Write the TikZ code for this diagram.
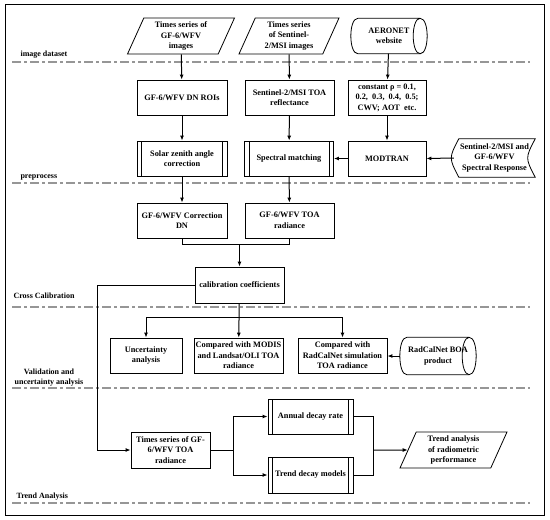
\documentclass[tikz,border=0pt]{standalone}
\usepackage{fontspec}
\setmainfont{Liberation Serif}
\usetikzlibrary{arrows.meta, shapes.geometric}
\definecolor{secgray}{RGB}{150,150,150}
% horizontal drum (stored data) outline round a named node
\newcommand{\drumout}[1]{%
  \draw[line width=0.8pt] ([xshift=7pt]#1.north west) -- ([xshift=-7pt]#1.north east)
    .. controls ([xshift=2.3pt]#1.north east) and ([xshift=2.3pt]#1.south east) .. ([xshift=-7pt]#1.south east)
    .. controls ([xshift=-16.3pt]#1.south east) and ([xshift=-16.3pt]#1.north east) .. ([xshift=-7pt]#1.north east);
  \draw[line width=0.8pt] ([xshift=-7pt]#1.south east) -- ([xshift=7pt]#1.south west)
    .. controls ([xshift=-2.3pt]#1.south west) and ([xshift=-2.3pt]#1.north west) .. ([xshift=7pt]#1.north west);}

\begin{document}
\begin{tikzpicture}[x=1pt, y=-1pt,
  every node/.style={font=\fontsize{8.3}{10.5}\selectfont\bfseries, align=center},
  pbox/.style={draw, line width=0.8pt, inner sep=1pt, minimum height=35pt},
  procbox/.style={pbox, path picture={
      \draw[line width=0.8pt] ([xshift=4.5pt]path picture bounding box.north west) -- ([xshift=4.5pt]path picture bounding box.south west)
        ([xshift=-4.5pt]path picture bounding box.north east) -- ([xshift=-4.5pt]path picture bounding box.south east);}},
  databox/.style={draw, line width=0.8pt, trapezium, trapezium left angle=62, trapezium right angle=118,
                  trapezium stretches body, inner sep=1pt, minimum height=36pt},
  drum/.style={inner sep=1pt, minimum height=35pt},
  sect/.style={secgray, line width=1.3pt, dash pattern=on 9pt off 3pt on 3pt off 3pt},
  slabel/.style={font=\fontsize{8}{10}\selectfont\bfseries, anchor=west},
  flow/.style={line width=1pt, -{Latex[length=5pt,width=4pt]}},
  link/.style={line width=1pt}]
  \useasboundingbox (0,0) rectangle (550,520);
  \draw[line width=1pt] (5,4) rectangle (544,515);

  % section borders and labels
  \draw[sect] (12,62) -- (530,62);
  \draw[sect] (12,183) -- (530,183);
  \draw[sect] (12,307) -- (530,307);
  \draw[sect] (12,388) -- (530,388);
  \draw[sect] (12,503) -- (530,503);
  \node[slabel] (l1) at (17,55) {image dataset};
  \node[slabel] (l2) at (17,177) {preprocess};
  \node[slabel] (l3) at (10,296) {Cross Calibration};
  \node[font=\fontsize{8}{10}\selectfont\bfseries] (l4) at (49,378) {Validation and\\uncertainty analysis};
  \node[slabel] (l5) at (13,497) {Trend Analysis};

  % image dataset
  \node[databox, minimum width=107pt] (d1) at (181,36) {Times series of\\GF-6/WFV\\images};
  \node[databox, minimum width=100pt] (d2) at (289,36) {Times series\\of Sentinel-\\2/MSI images};
  \node[drum, minimum width=76pt] (d3) at (389,36) {AERONET\\website};
  \drumout{d3}

  % preprocess
  \node[pbox, minimum width=90pt] (p1) at (182,97.5) {GF-6/WFV DN ROIs};
  \node[pbox, minimum width=89pt] (p2) at (289.5,97.5) {Sentinel-2/MSI TOA\\reflectance};
  \node[pbox, minimum width=78pt] (p3) at (387,97.5) {constant ρ = 0.1,\\0.2,~ 0.3,~ 0.4,~ 0.5;\\CWV; AOT~ etc.};
  \node[procbox, minimum width=90pt] (c1) at (182,158.5) {Solar zenith angle\\correction};
  \node[procbox, minimum width=89pt] (c2) at (289,158.5) {Spectral matching};
  \node[pbox, minimum width=78pt] (c3) at (387,158.5) {MODTRAN};
  \node[inner sep=0pt, minimum width=81pt, minimum height=38pt] (sr) at (494.5,158) {Sentinel-2/MSI and\\GF-6/WFV\\Spectral Response};
  \draw[line width=0.8pt] ([xshift=5pt]sr.north west) -- (sr.north east)
    .. controls ([xshift=-10pt]sr.east) .. (sr.south east) -- ([xshift=5pt]sr.south west)
    .. controls ([xshift=-5pt]sr.west) .. ([xshift=5pt]sr.north west) -- cycle;

  \draw[flow] (d1) -- (p1);
  \draw[flow] (d2) -- (p2);
  \draw[flow] (d3) -- (p3);
  \draw[flow] (p1) -- (c1);
  \draw[flow] (p2) -- (c2);
  \draw[flow] (p3) -- (c3);
  \draw[flow] (sr.west) -- (c3.east);
  \draw[flow] (c3) -- (c2);

  % cross calibration
  \node[pbox, minimum width=90pt] (r1) at (182,220.5) {GF-6/WFV Correction\\DN};
  \node[pbox, minimum width=89pt] (r2) at (289.5,220.5) {GF-6/WFV TOA\\radiance};
  \node[pbox, minimum width=89pt, minimum height=36pt] (cc) at (239.5,285) {calibration coefficients};
  \coordinate (m1) at (239.5,244);

  \draw[flow] (c1) -- (r1);
  \draw[flow] (c2) -- (r2);
  \draw[link] (r1.south) |- (m1);
  \draw[link] (r2.south) |- (m1);
  \draw[flow] (m1) -- (cc);

  % validation and uncertainty analysis
  \node[pbox, minimum width=72pt] (v1) at (146,355.5) {Uncertainty\\analysis};
  \node[pbox, minimum width=89pt] (v2) at (238.5,355.5) {Compared with MODIS\\and Landsat/OLI TOA\\radiance};
  \node[pbox, minimum width=89pt] (v3) at (342.5,355.5) {Compared with\\RadCalNet simulation\\TOA radiance};
  \node[drum, minimum width=76pt, minimum height=37pt] (v4) at (438,356) {RadCalNet BOA\\product};
  \drumout{v4}
  \coordinate (b1) at (239.5,317);

  \draw[flow] (cc) -- (v2);
  \draw[flow] (b1) -| (v1);
  \draw[flow] (b1) -| (v3);
  \draw[flow] (v4.west) -- (v3.east |- v4.west);

  % trend analysis
  \node[pbox, minimum width=79pt, minimum height=36pt] (ts) at (170.5,450) {Times series of GF-\\6/WFV TOA\\radiance};
  \node[procbox, minimum width=85pt] (t1) at (310.5,416.5) {Annual decay rate};
  \node[procbox, minimum width=85pt, minimum height=36pt] (t2) at (310.5,475) {Trend decay models};
  \node[databox, minimum width=107pt] (fa) at (453.5,450) {Trend analysis\\of radiometric\\performance};
  \coordinate (lp) at (97,450);
  \coordinate (s1) at (233,450);
  \coordinate (s2) at (373,450);

  \draw[flow] (cc.west) -| (lp) -- (ts);
  \draw[link] (ts) -- (s1);
  \draw[flow] (s1) |- (t1);
  \draw[flow] (s1) |- (t2);
  \draw[link] (t1) -| (s2);
  \draw[link] (t2) -| (s2);
  \draw[flow] (s2) -- (fa);
\end{tikzpicture}
\end{document}
